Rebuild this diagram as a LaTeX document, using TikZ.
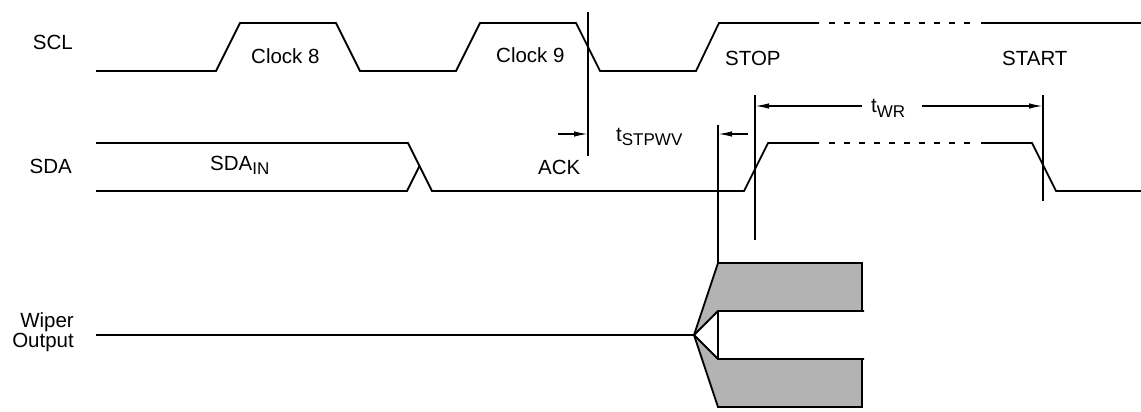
\documentclass[tikz,border=0pt]{standalone}
\usepackage{fontspec}
\setmainfont{Liberation Sans}
\usetikzlibrary{arrows.meta}
\definecolor{fillgray}{RGB}{179,179,179}
\newcommand{\lowsub}[1]{\raisebox{-4.5pt}{\fontsize{17}{18}\selectfont #1}}
\begin{document}
\begin{tikzpicture}[x=1pt,y=-1pt,
  wave/.style={line width=1.8pt, line join=miter},
  dashwave/.style={line width=1.8pt, dash pattern=on 6pt off 9pt},
  marker/.style={line width=1.5pt},
  timearrow/.style={line width=1.5pt, -{Latex[length=14pt,width=5.5pt]}},
  lbl/.style={font=\fontsize{20.5}{24}\selectfont, inner sep=0pt}]
\useasboundingbox (0,0) rectangle (1141,412);

% signal names
\node[lbl, anchor=base east] (scl) at (73,50) {SCL};
\node[lbl, anchor=base east] (sda) at (72,173) {SDA};
\node[lbl, anchor=base east] (wiper) at (74,327) {Wiper};
\node[lbl, anchor=base east] (output) at (74,347) {Output};

% SCL waveform
\draw[wave] (96,71) -- (216,71) -- (240,23) -- (336,23) -- (360,71) -- (456,71)
  -- (480,23) -- (576,23) -- (600,71) -- (696,71) -- (719,23) -- (819,23);
\draw[dashwave] (829,23) -- (975,23);
\draw[wave] (981,23) -- (1141,23);

% SDA waveform
\draw[wave] (96,143) -- (408,143) -- (432,191) -- (744,191) -- (768,143) -- (819,143);
\draw[wave] (96,191) -- (407,191) -- (419.5,166);
\draw[dashwave] (829,143) -- (975,143);
\draw[wave] (981,143) -- (1032,143) -- (1056,191) -- (1141,191);

% waveform labels
\node[lbl, anchor=base west] (clk8) at (251,64) {Clock 8};
\node[lbl, anchor=base west] (clk9) at (496,63) {Clock 9};
\node[lbl, anchor=base west] (stop) at (725,66) {STOP};
\node[lbl, anchor=base west] (start) at (1002,66) {START};
\node[lbl, anchor=base west] (sdain) at (210,170) {SDA\lowsub{IN}};
\node[lbl, anchor=base west] (ack) at (538,174) {ACK};
\node[lbl, anchor=base west] (tstp) at (616,141) {t\lowsub{STPWV}};
\node[lbl, anchor=base west] (twr) at (871,113) {t\lowsub{WR}};

% marker lines
\coordinate (m1t) at (588,12);   \coordinate (m1b) at (588,156);
\coordinate (m2t) at (718,125);  \coordinate (m2b) at (718,408);
\coordinate (m3t) at (755,95);   \coordinate (m3b) at (755,240);
\coordinate (m4t) at (1043,95);  \coordinate (m4b) at (1043,201);
\draw[marker] (m1t) -- (m1b);
\draw[marker] (m2t) -- (m2b);
\draw[marker] (m3t) -- (m3b);
\draw[marker] (m4t) -- (m4b);

% timing arrows
\coordinate (a1s) at (558,134); \coordinate (a1e) at (588,134);
\coordinate (a2s) at (748,134); \coordinate (a2e) at (718,134);
\coordinate (a3s) at (862,106); \coordinate (a3e) at (755,106);
\coordinate (a4s) at (922,106); \coordinate (a4e) at (1043,106);
\draw[timearrow] (a1s) -- (a1e);
\draw[timearrow] (a2s) -- (a2e);
\draw[timearrow] (a3s) -- (a3e);
\draw[timearrow] (a4s) -- (a4e);

% wiper output
\fill[fillgray] (694,335) -- (718,263) -- (862,263) -- (862,311) -- (718,311) -- cycle;
\fill[fillgray] (694,335) -- (718,359) -- (862,359) -- (862,407) -- (718,407) -- cycle;
\draw[wave] (96,335) -- (694,335);
\draw[wave] (694,335) -- (718,263) -- (862,263) -- (862,311);
\draw[wave] (694,335) -- (718,311) -- (864,311);
\draw[wave] (694,335) -- (718,407) -- (862,407) -- (862,359);
\draw[wave] (694,335) -- (718,359) -- (864,359);
\end{tikzpicture}
\end{document}
